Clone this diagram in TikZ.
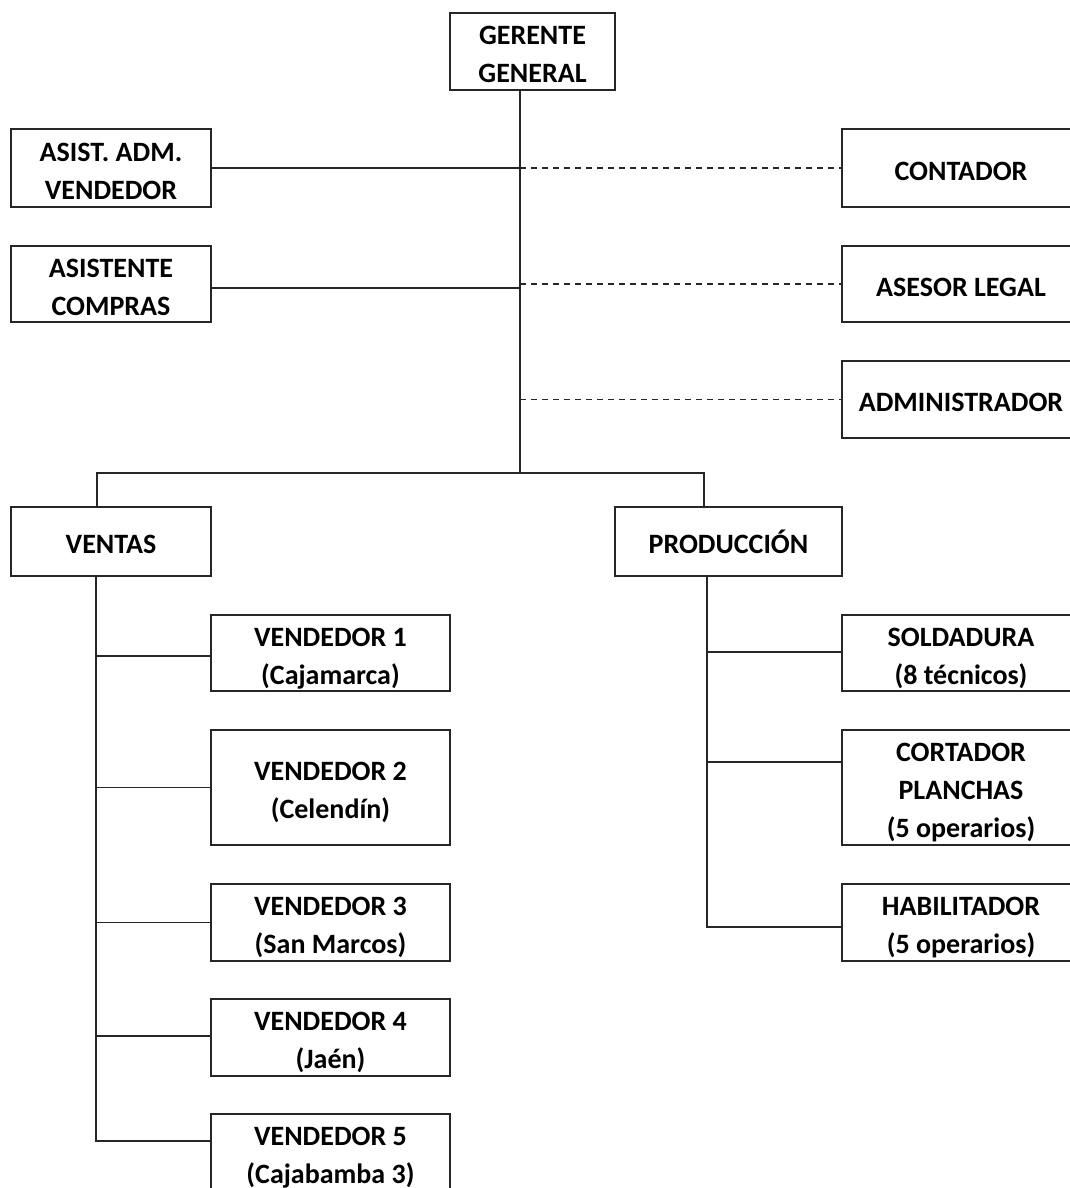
\documentclass[tikz,border=0pt]{standalone}
\usepackage{fontspec}
\setmainfont{Carlito}
% struts that balance the cap height of the labels inside their boxes
\newcommand\lbl[1]{\rule{0pt}{31pt}#1\rule[-7pt]{0pt}{7pt}}
\begin{document}
\begin{tikzpicture}[x=1pt,y=-1pt,
  box/.style={draw=black!85,line width=1.5pt,inner sep=0pt,align=center,
    font=\fontsize{28}{38}\selectfont\bfseries,text=black},
  link/.style={draw=black!85,line width=1.5pt},
  staff/.style={draw=black!85,line width=1.3pt,dash pattern=on 6pt off 5pt}]
\useasboundingbox (0,0) rectangle (1070,1188);
\clip (0,0) rectangle (1070,1188);

% top management
\node[box,minimum width=165pt,minimum height=77pt] (gg) at (532.5,51.5) {\lbl{GERENTE\\GENERAL}};

% line assistants (left) and staff advisers (right)
\node[box,minimum width=200pt,minimum height=78pt] (asist) at (111,168) {\lbl{ASIST. ADM.\\VENDEDOR}};
\node[box,minimum width=200pt,minimum height=76pt] (compras) at (111,284) {\lbl{ASISTENTE\\COMPRAS}};
\node[box,minimum width=238pt,minimum height=78pt] (cont) at (961,168) {\lbl{CONTADOR}};
\node[box,minimum width=238pt,minimum height=76pt] (legal) at (961,284) {\lbl{ASESOR LEGAL}};
\node[box,minimum width=238pt,minimum height=77pt] (admin) at (961,399.5) {\lbl{ADMINISTRADOR}};

% departments
\node[box,minimum width=200pt,minimum height=69pt] (ventas) at (111,541.5) {\lbl{VENTAS}};
\node[box,minimum width=227pt,minimum height=69pt] (prod) at (728.5,541.5) {\lbl{PRODUCCIÓN}};

% sales staff
\node[box,minimum width=239pt,minimum height=76pt] (v1) at (330.5,653) {\lbl{VENDEDOR 1\\(Cajamarca)}};
\node[box,minimum width=239pt,minimum height=115pt] (v2) at (330.5,787.5) {\lbl{VENDEDOR 2\\(Celendín)}};
\node[box,minimum width=239pt,minimum height=77pt] (v3) at (330.5,922.5) {\lbl{VENDEDOR 3\\(San Marcos)}};
\node[box,minimum width=239pt,minimum height=77pt] (v4) at (330.5,1037.5) {\lbl{VENDEDOR 4\\(Jaén)}};
\node[box,minimum width=239pt,minimum height=77pt] (v5) at (330.5,1152.5) {\lbl{VENDEDOR 5\\(Cajabamba 3)}};

% production staff
\node[box,minimum width=238pt,minimum height=76pt] (sold) at (961,653) {\lbl{SOLDADURA\\(8 técnicos)}};
\node[box,minimum width=238pt,minimum height=115pt] (cort) at (961,787.5) {\lbl{CORTADOR\\PLANCHAS\\(5 operarios)}};
\node[box,minimum width=238pt,minimum height=77pt] (hab) at (961,922.5) {\lbl{HABILITADOR\\(5 operarios)}};

% bus points
\coordinate (trunk) at (520,473);
\coordinate (vbus) at (97,473);
\coordinate (pbus) at (704,473);
\coordinate (vtr) at (96,1141);
\coordinate (ptr) at (707,927);

% main trunk
\draw[link] (gg.south -| trunk) -- (trunk);
\draw[link] (asist.east) -- (asist.east -| trunk);
\draw[link] ([yshift=-4pt]compras.east) -- ([yshift=-4pt]compras.east -| trunk);
\draw[staff] (cont.west -| trunk) -- (cont.west);
\draw[staff] (legal.west -| trunk) -- (legal.west);
\draw[staff] (admin.west -| trunk) -- (admin.west);

% departments bus
\draw[link] (ventas.north -| vbus) -- (vbus) -- (pbus) -- (prod.north -| pbus);

% sales branch
\draw[link] (ventas.south -| vtr) -- (vtr) -- ([yshift=11.5pt]v5.west);
\draw[link] ([yshift=-3pt]v1.west -| vtr) -- ([yshift=-3pt]v1.west);
\draw[link] (v2.west -| vtr) -- (v2.west);
\draw[link] (v3.west -| vtr) -- (v3.west);
\draw[link] ([yshift=1.5pt]v4.west -| vtr) -- ([yshift=1.5pt]v4.west);

% production branch
\draw[link] (prod.south -| ptr) -- (ptr) -- ([yshift=-4.5pt]hab.west);
\draw[link] ([yshift=1pt]sold.west -| ptr) -- ([yshift=1pt]sold.west);
\draw[link] ([yshift=25.5pt]cort.west -| ptr) -- ([yshift=25.5pt]cort.west);
\end{tikzpicture}
\end{document}
